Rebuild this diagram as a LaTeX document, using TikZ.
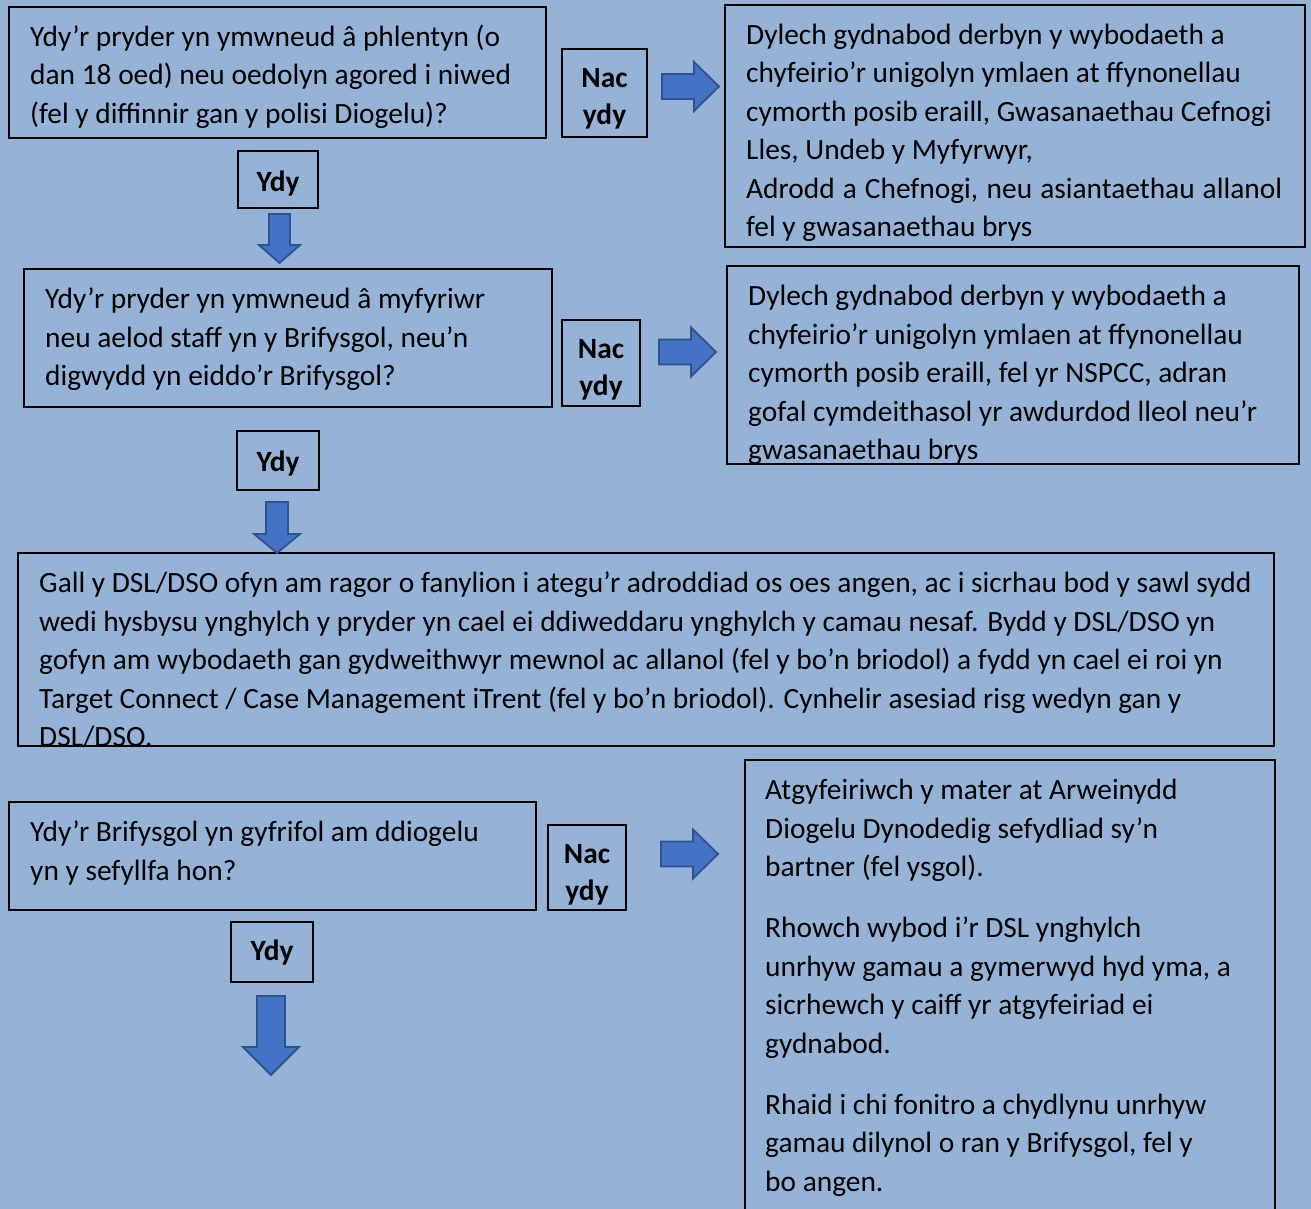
\documentclass[tikz,border=0pt]{standalone}
\usepackage{fontspec}
\setmainfont{Carlito}
\definecolor{bg}{RGB}{149,179,215}
\definecolor{afill}{RGB}{68,114,196}
\definecolor{aline}{RGB}{47,82,143}
\newcommand{\ptext}[1]{\parbox[t]{1300pt}{\raggedright #1}}
\begin{document}
\begin{tikzpicture}[x=1pt,y=-1pt,
  box/.style={draw=black,line width=1.8pt,inner sep=0pt,outer sep=0pt},
  txt/.style={anchor=base west,inner sep=0pt,font=\fontsize{29.4}{38.5}\selectfont},
  lbltxt/.style={inner sep=0pt,align=center,font=\fontsize{29.4}{37}\selectfont\bfseries},
  barrow/.style={fill=afill,draw=aline,line width=1.8pt,line join=miter},
  rarr/.pic={\draw[barrow] (0,-12.5) -- (32,-12.5) -- (32,-24.5) -- (57,0) -- (32,24.5) -- (32,12.5) -- (0,12.5) -- cycle;}]
\fill[bg] (0,0) rectangle (1311,1209);
\useasboundingbox (0,0) rectangle (1311,1209);

% boxes
\node[box,minimum width=537pt,minimum height=131pt] (q1) at (277.5,72.5) {};
\node[box,minimum width=580pt,minimum height=242pt] (r1) at (1015,126) {};
\node[box,minimum width=528pt,minimum height=138pt] (q2) at (288,338) {};
\node[box,minimum width=572pt,minimum height=198pt] (r2) at (1013,365) {};
\node[box,minimum width=1256pt,minimum height=193pt] (q3) at (646,649.5) {};
\node[box,minimum width=527pt,minimum height=108pt] (q4) at (272.5,856) {};
\node[box,minimum width=530pt,minimum height=460pt] (r3) at (1010,990) {};

% label boxes
\node[box,minimum width=85pt,minimum height=88pt] (n1) at (604.5,93) {};
\node[box,minimum width=78pt,minimum height=86pt] (n2) at (601,363) {};
\node[box,minimum width=78pt,minimum height=85pt] (n3) at (587,867.5) {};
\node[box,minimum width=80pt,minimum height=57pt] (y1) at (278,179.5) {};
\node[box,minimum width=82pt,minimum height=59pt] (y2) at (278,460.5) {};
\node[box,minimum width=82pt,minimum height=60pt] (y3) at (272,952) {};
\node[lbltxt] (n1t) at (604.5,99) {Nac\\ydy};
\node[lbltxt] (n2t) at (601,369.5) {Nac\\ydy};
\node[lbltxt] (n3t) at (587,874.5) {Nac\\ydy};
\node[lbltxt] (y1t) at (278,183.5) {Ydy};
\node[lbltxt] (y2t) at (278,463.5) {Ydy};
\node[lbltxt] (y3t) at (272,952) {Ydy};

% arrows
\pic (a1) at (662,86.5) {rarr};
\pic (a2) at (659,352) {rarr};
\pic (a3) at (661,854) {rarr};
\draw[barrow] (269,214) -- (290,214) -- (290,245) -- (300,245) -- (279.5,263) -- (259,245) -- (269,245) -- cycle;
\draw[barrow] (266,502) -- (288,502) -- (288,534) -- (300,534) -- (277,553) -- (254,534) -- (266,534) -- cycle;
\draw[barrow] (257,996) -- (285,996) -- (285,1047) -- (299,1047) -- (271,1075) -- (243,1047) -- (257,1047) -- cycle;

% texts
\node[txt] (t1) at (30,46.5) {\ptext{Ydy’r pryder yn ymwneud â phlentyn (o\\dan 18 oed) neu oedolyn agored i niwed\\(fel y diffinnir gan y polisi Diogelu)?}};
\node[txt] (tr1) at (746,44.5) {\ptext{Dylech gydnabod derbyn y wybodaeth a\\chyfeirio’r unigolyn ymlaen at ffynonellau\\cymorth posib eraill, Gwasanaethau Cefnogi\\Lles, Undeb y Myfyrwyr,\\\makebox[536pt][s]{Adrodd a Chefnogi, neu asiantaethau allanol}\\fel y gwasanaethau brys}};
\node[txt] (t2) at (45,308.5) {\ptext{Ydy’r pryder yn ymwneud â myfyriwr\\neu aelod staff yn y Brifysgol, neu’n\\digwydd yn eiddo’r Brifysgol?}};
\node[txt] (tr2) at (748,305.5) {\ptext{Dylech gydnabod derbyn y wybodaeth a\\chyfeirio’r unigolyn ymlaen at ffynonellau\\cymorth posib eraill, fel yr NSPCC, adran\\gofal cymdeithasol yr awdurdod lleol neu’r\\gwasanaethau brys}};
\node[txt] (t3) at (39,592.5) {\ptext{Gall y DSL/DSO ofyn am ragor o fanylion i ategu’r adroddiad os oes angen, ac i sicrhau bod y sawl sydd\\wedi hysbysu ynghylch y pryder yn cael ei ddiweddaru ynghylch y camau nesaf. Bydd y DSL/DSO yn\\gofyn am wybodaeth gan gydweithwyr mewnol ac allanol (fel y bo’n briodol) a fydd yn cael ei roi yn\\Target Connect / Case Management iTrent (fel y bo’n briodol). Cynhelir asesiad risg wedyn gan y\\DSL/DSO.}};
\node[txt] (t4) at (30,841.5) {\ptext{Ydy’r Brifysgol yn gyfrifol am ddiogelu\\yn y sefyllfa hon?}};
\node[txt] (tr3) at (765,799.5) {\ptext{Atgyfeiriwch y mater at Arweinydd\\Diogelu Dynodedig sefydliad sy’n\\bartner (fel ysgol).\\[22.5pt]Rhowch wybod i’r DSL ynghylch\\unrhyw gamau a gymerwyd hyd yma, a\\sicrhewch y caiff yr atgyfeiriad ei\\gydnabod.\\[22.5pt]Rhaid i chi fonitro a chydlynu unrhyw\\gamau dilynol o ran y Brifysgol, fel y\\bo angen.}};
\end{tikzpicture}
\end{document}
